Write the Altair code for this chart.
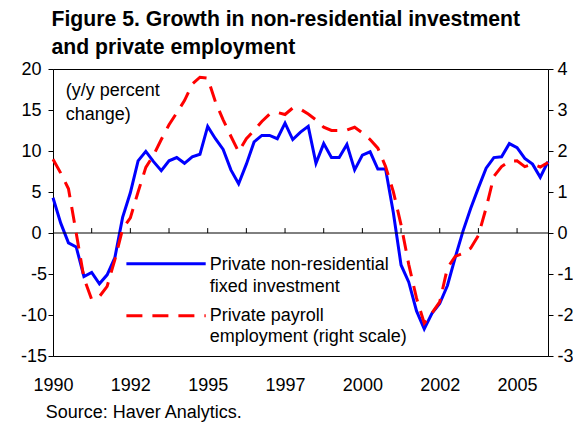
import altair as alt
import pandas as pd

# Quarterly data, 1990Q1 .. 2006Q1 (index 0..64)
quarter_index = list(range(65))

investment = [4.3, 1.2, -1.2, -1.7, -5.3, -4.8, -6.2, -5.1, -3.0, 1.9,
              4.9, 8.8, 9.95, 8.7, 7.6, 8.8, 9.2, 8.5, 9.3, 9.6,
              13.0, 11.5, 10.2, 7.7, 6.0, 8.4, 11.1, 11.9, 11.9, 11.5,
              13.4, 11.4, 12.3, 13.0, 8.5, 10.9, 9.2, 9.2, 10.8, 7.7,
              9.5, 9.9, 7.8, 7.8, 2.5, -3.9, -6.0, -9.5, -11.7, -9.8,
              -8.6, -6.4, -3.0, 0.2, 3.0, 5.5, 7.9, 9.2, 9.3, 10.9,
              10.4, 9.1, 8.4, 6.8, 8.7]

payroll = [1.80, 1.46, 1.08, 0.0, -1.1, -1.62, -1.55, -1.30, -0.65, 0.1,
           0.37, 1.0, 1.6, 1.9, 2.28, 2.64, 2.93, 3.23, 3.63, 3.80,
           3.78, 3.2, 2.76, 2.36, 1.98, 2.3, 2.5, 2.72, 2.90, 2.94,
           2.89, 3.05, 3.02, 2.9, 2.76, 2.58, 2.5, 2.5, 2.51, 2.58,
           2.44, 2.28, 2.07, 1.62, 1.01, 0.2, -0.77, -1.59, -2.2, -1.95,
           -1.68, -0.85, -0.57, -0.5, -0.37, -0.06, 0.61, 1.38, 1.62, 1.75,
           1.76, 1.62, 1.68, 1.61, 1.72]

label_positions = [0, 10, 20, 30, 40, 50, 60]
year_labels = ["1990", "1992", "1995", "1997", "2000", "2002", "2005"]
minor_ticks = [5, 10, 15, 20, 25, 30, 35, 40, 45, 50, 55, 60]
left_ticks = [-15, -10, -5, 0, 5, 10, 15, 20]
right_ticks = [-3, -2, -1, 0, 1, 2, 3, 4]

title_lines = ["Figure 5. Growth in non-residential investment",
               "and private employment"]
unit_note = ["(y/y percent", "change)"]
legend_inv = ["Private non-residential", "fixed investment"]
legend_pay = ["Private payroll", "employment (right scale)"]
source_note = "Source: Haver Analytics."

FONT = "Liberation Sans"
BLUE = "#0000FF"
RED = "#FF0000"
W, H = 495, 287

df = pd.DataFrame({"t": quarter_index, "inv": investment, "pay": payroll})

label_expr = ""
for p, l in zip(label_positions, year_labels):
    label_expr += f"datum.value == {p} ? '{l}' : "
label_expr += "''"

x_scale = alt.Scale(domain=[0, 64], nice=False, zero=False)
left_scale = alt.Scale(domain=[-15, 20], nice=False, zero=False)
right_scale = alt.Scale(domain=[-3, 4], nice=False, zero=False)

x_axis = alt.Axis(values=label_positions, labelExpr=label_expr,
                  ticks=False, domain=False, grid=False, title=None,
                  labelFont=FONT, labelFontSize=18, labelColor="black",
                  labelPadding=20, labelFlush=False, labelOverlap=False)
left_axis = alt.Axis(orient="left", values=left_ticks, grid=False, title=None,
                     domainColor="black", tickColor="black", tickSize=5,
                     labelFont=FONT, labelFontSize=18, labelColor="black",
                     labelPadding={"condition": {"test": "datum.value < 0", "value": 1.5},
                                   "value": 7},
                     labelExpr="'' + datum.value")
right_axis = alt.Axis(orient="right", values=right_ticks, grid=False, title=None,
                      domainColor="black", tickColor="black", tickSize=5,
                      labelFont=FONT, labelFontSize=18, labelColor="black",
                      labelPadding=4, labelExpr="'' + datum.value")

blue = alt.Chart(df).mark_line(color=BLUE, strokeWidth=3).encode(
    x=alt.X("t:Q", scale=x_scale, axis=x_axis),
    y=alt.Y("inv:Q", scale=left_scale, axis=left_axis),
)

zero_line = alt.Chart(pd.DataFrame({"z": [0]})).mark_rule(color="black", strokeWidth=1).encode(
    y=alt.Y("z:Q", scale=left_scale, axis=left_axis)
)

tick_marks = alt.Chart(pd.DataFrame({"t": minor_ticks})).mark_rule(color="black", strokeWidth=1).encode(
    x=alt.X("t:Q", scale=x_scale, axis=x_axis),
    y=alt.YDatum(0, scale=left_scale, axis=left_axis),
    y2=alt.Y2Datum(0.6),
)

left = alt.layer(blue, zero_line, tick_marks)

red = alt.Chart(df).mark_line(color=RED, strokeWidth=3, strokeDash=[16, 10]).encode(
    x=alt.X("t:Q", scale=x_scale, axis=x_axis),
    y=alt.Y("pay:Q", scale=right_scale, axis=right_axis),
)

one = alt.Data(values=[{}])

def text_mark(txt, x, y, size=18, line_height=22):
    return alt.Chart(one).mark_text(
        align="left", baseline="alphabetic", font=FONT, fontSize=size,
        color="black", lineHeight=line_height
    ).encode(x=alt.value(x), y=alt.value(y), text=alt.value(txt))

note = text_mark(unit_note, 12.7, 26.7, line_height=24)
leg_blue_line = alt.Chart(one).mark_rule(color=BLUE, strokeWidth=3).encode(
    x=alt.value(73.4), x2=alt.value(152.7), y=alt.value(194.7))
leg_red_line = alt.Chart(one).mark_rule(color=RED, strokeWidth=3, strokeDash=[16, 10]).encode(
    x=alt.value(73.4), x2=alt.value(152.7), y=alt.value(246.7))
leg_blue_text = text_mark(legend_inv, 156.7, 201.4, line_height=22)
leg_red_text = text_mark(legend_pay, 156.7, 252.4, line_height=21)
source = text_mark(source_note, -7.3, 348.5, size=18)

chart = alt.layer(
    left, red, note, leg_blue_line, leg_red_line, leg_blue_text, leg_red_text, source
).resolve_scale(y="independent").properties(
    width=W, height=H,
    title=alt.Title(text=title_lines, anchor="start", frame="group", dx=-1.5,
                    fontSize=21.2, font=FONT, fontWeight="bold", color="black",
                    lineHeight=28, offset=2),
    autosize=alt.AutoSizeParams(type="none"),
    padding={"left": 45, "top": 61, "right": 25, "bottom": 66},
).configure_view(stroke="black", strokeWidth=1)

chart.save("out.html", embed_options={"renderer": "svg", "actions": False})
